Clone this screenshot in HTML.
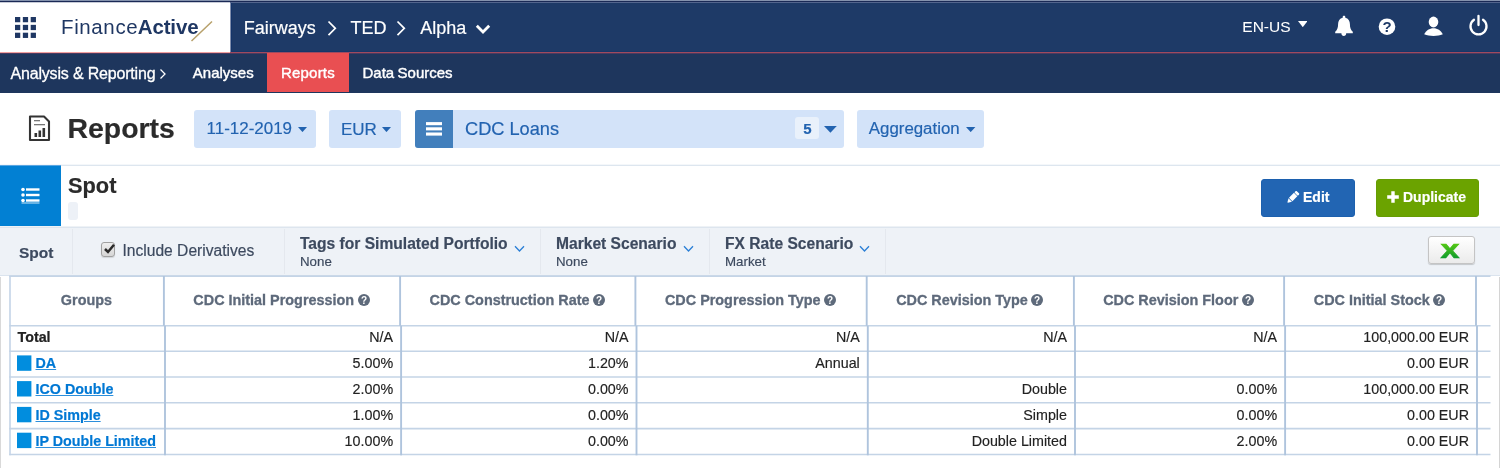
<!DOCTYPE html>
<html lang="en">
<head>
<meta charset="utf-8">
<title>Reports</title>
<style>
*{box-sizing:border-box;margin:0;padding:0}
html,body{width:1500px;height:468px;overflow:hidden;background:#fff}
body{font-family:"Liberation Sans",sans-serif;position:relative;color:#222}
.abs{position:absolute}
#top0{left:0;top:0;width:1500px;height:1px;background:#8492ad}
#top1{left:0;top:1px;width:1500px;height:1px;background:#1a2955}
#hdr{left:0;top:2px;width:1500px;height:50px;background:#1e3a67}
#hdrhl{left:230px;top:2px;width:1270px;height:1px;background:#53658d}
#logo{left:0;top:2px;width:230px;height:50px;background:#fff}
#redline{left:0;top:52px;width:1500px;height:1px;background:#a04a5e}
#redline2{left:0;top:52px;width:230px;height:1px;background:#f2a0a0}
#redline3{left:0;top:53px;width:1500px;height:1px;background:#4b3a5f}
#hdrsh{left:230px;top:51px;width:1270px;height:1px;background:#16366a}
#hdrsv{left:230px;top:3px;width:1px;height:49px;background:#7f8dab}
#hdrsv2{left:231px;top:3px;width:1px;height:49px;background:#14346a}
#logotop{left:0;top:2px;width:230px;height:1px;background:#c8ccd8}
#nav{left:0;top:53px;width:1500px;height:40px;background:#1e365d}
.t{position:absolute;white-space:nowrap;line-height:1;-webkit-text-stroke:0.180px currentColor}
.w{color:#fff}
#tab{left:267px;top:53px;width:82px;height:39px;background:#e94f52}
.lb{position:absolute;background:#d3e3f9;border-radius:3px;height:38px;top:110px}
.bl{color:#2263b0}
.caret{position:absolute;width:0;height:0;border-left:5px solid transparent;border-right:5px solid transparent;border-top:5.5px solid #2263b0}
#sepline{left:0;top:165px;width:1500px;height:1px;background:#dde6ef}
#sepline2{left:0;top:164px;width:1500px;height:1px;background:#f4f7fa}
#sepline3{left:0;top:165px;width:61px;height:1px;background:#5aa6e2}
#spotbox{left:0;top:166px;width:61px;height:60px;background:#0280d3}
#fbar{left:0;top:226px;width:1500px;height:50px;background:#eef2f7;border-top:1px solid #eef2f6;border-bottom:1px solid #dbe4ee}
#fbar2{left:0;top:227px;width:1500px;height:1px;background:#dde5ee}
.vs{position:absolute;top:229px;width:1px;height:45px;background:#e4e8ee}
.btn{position:absolute;top:179px;height:38px;border-radius:3px}
.hd{position:absolute;top:293px;padding-right:1px;-webkit-text-stroke:0.300px #5e6a7b;font-size:14.400px;font-weight:bold;color:#5e6a7b;white-space:nowrap;line-height:1;text-align:center}
.hl{position:absolute;background:#bacde4}
.r{position:absolute;-webkit-text-stroke:0.150px currentColor;font-size:14.3px;line-height:1;white-space:nowrap;text-align:right;color:#222}
.g{position:absolute;-webkit-text-stroke:0.200px currentColor;font-size:14.3px;line-height:1;white-space:nowrap;font-weight:bold}
.g a{color:#0078d4;text-decoration:underline;text-decoration-color:#2b8fdc}
.sq{position:absolute;left:17px;width:14px;height:14px;background:#0b80de}
.qi{display:inline-block;vertical-align:-1px;margin-left:3.500px}
</style>
</head>
<body>
<div class="abs" id="top0"></div>
<div class="abs" id="top1"></div>
<div class="abs" id="hdr"></div>
<div class="abs" id="hdrhl"></div>
<div class="abs" id="logo"></div>
<div class="abs" id="redline"></div><div class="abs" id="redline2"></div><div class="abs" id="hdrsh"></div><div class="abs" id="hdrsv"></div><div class="abs" id="hdrsv2"></div><div class="abs" id="logotop"></div>
<div class="abs" id="nav"></div><div class="abs" id="redline3"></div>
<div class="abs" id="tab"></div>

<!-- grid icon -->
<svg class="abs" style="left:14.700px;top:16.700px" width="22" height="22" viewBox="0 0 22 22"><g fill="#1f3763"><rect x="0" y="0" width="5.250" height="5.250"/><rect x="7.85" y="0" width="5.250" height="5.250"/><rect x="15.7" y="0" width="5.250" height="5.250"/><rect x="0" y="7.85" width="5.250" height="5.250"/><rect x="7.85" y="7.85" width="5.250" height="5.250"/><rect x="15.7" y="7.85" width="5.250" height="5.250"/><rect x="0" y="15.7" width="5.250" height="5.250"/><rect x="7.85" y="15.7" width="5.250" height="5.250"/><rect x="15.7" y="15.7" width="5.250" height="5.250"/></g></svg>

<!-- logo -->
<div class="t" id="lg" style="left:61px;top:17px;font-size:20.5px;color:#1f3763;letter-spacing:0.62px;-webkit-text-stroke:0">Finance<b style="font-weight:bold;letter-spacing:-0.15px;margin-left:-0.500px">Active</b></div>
<svg class="abs" style="left:188px;top:17px" width="28" height="28" viewBox="0 0 28 28"><line x1="3.5" y1="24" x2="24" y2="4.5" stroke="#b7a06a" stroke-width="1.500"/></svg>

<!-- breadcrumb -->
<div class="t w" style="left:243.800px;top:18.500px;font-size:18px">Fairways</div>
<svg class="abs" style="left:326.500px;top:20px" width="12" height="18" viewBox="0 0 12 18"><path d="M1.500 1.500 L8.300 8.300 L1.500 15.100" fill="none" stroke="#fff" stroke-width="1.700"/></svg>
<div class="t w" style="left:350.500px;top:18.500px;font-size:18px">TED</div>
<svg class="abs" style="left:396px;top:20px" width="12" height="18" viewBox="0 0 12 18"><path d="M1.500 1.500 L8.300 8.300 L1.500 15.100" fill="none" stroke="#fff" stroke-width="1.700"/></svg>
<div class="t w" style="left:420.300px;top:18.500px;font-size:18px">Alpha</div>
<svg class="abs" style="left:474.800px;top:23px" width="16" height="13" viewBox="0 0 16 13"><path d="M1.800 2.700 L8 8.900 L14.200 2.700" fill="none" stroke="#fff" stroke-width="2.800"/></svg>

<!-- right icons -->
<div class="t w" style="left:1242.300px;top:18.600px;font-size:15.5px;-webkit-text-stroke:0.050px #fff">EN-US</div>
<svg class="abs" style="left:1297.6px;top:20.9px" width="9.6" height="6.2" viewBox="0 0 9.6 6.2"><path d="M0 0 H9.6 L4.8 6.2 Z" fill="#fff"/></svg>
<svg class="abs" style="left:1334px;top:15px" width="20" height="22" viewBox="0 0 20 22"><path d="M10 0.800 C10.800 0.800 11.300 1.300 11.300 2.100 V2.700 C14.300 3.400 15.900 6 15.900 9 C15.900 13 17 15.200 18.800 16.700 V18.200 H12.200 C12.200 19.900 11.200 20.900 9.800 20.900 C8.400 20.900 7.400 19.900 7.400 18.200 H1.200 V16.700 C3 15.200 4.100 13 4.100 9 C4.100 6 5.700 3.400 8.700 2.700 V2.100 C8.700 1.300 9.200 0.800 10 0.800 Z" fill="#fff"/></svg>
<svg class="abs" style="left:1377.500px;top:18px" width="18" height="18" viewBox="0 0 18 18"><circle cx="9" cy="8.700" r="8.300" fill="#fff"/><text x="9" y="14" text-anchor="middle" font-family="Liberation Sans, sans-serif" font-weight="bold" font-size="15" fill="#1e3a67">?</text></svg>
<svg class="abs" style="left:1423px;top:16px" width="21" height="21" viewBox="0 0 21 21"><ellipse cx="10.500" cy="6" rx="4.800" ry="5.400" fill="#fff"/><path d="M1.200 18.300 C3 14.500 6.500 12.300 10.500 12.300 C14.500 12.300 18 14.500 19.800 18.300 C17 19.600 14 20 10.500 20 C7 20 4 19.600 1.200 18.300 Z" fill="#fff"/></svg>
<svg class="abs" style="left:1468px;top:14.400px" width="21" height="22" viewBox="0 0 21 22"><path d="M6 5.800 A8 8 0 1 0 15 5.800" fill="none" stroke="#fff" stroke-width="2.300" stroke-linecap="round"/><line x1="10.500" y1="2" x2="10.500" y2="11" stroke="#fff" stroke-width="2.300" stroke-linecap="round"/></svg>

<!-- nav -->
<div class="t w" style="left:10.500px;top:66px;font-size:16px;letter-spacing:-0.18px;-webkit-text-stroke:0.3px #fff">Analysis &amp; Reporting</div>
<svg class="abs" style="left:158.500px;top:68px" width="8" height="12" viewBox="0 0 8 12"><path d="M1.500 1.500 L6 6 L1.500 10.500" fill="none" stroke="#fff" stroke-width="1.3"/></svg>
<div class="t w" style="left:192.800px;top:65px;font-size:15px;-webkit-text-stroke:0.400px #fff">Analyses</div>
<div class="t w" style="left:281px;top:65px;font-size:15px;letter-spacing:0.200px;-webkit-text-stroke:0.400px #fff">Reports</div>
<div class="t w" style="left:362.500px;top:65px;font-size:15px;word-spacing:-0.800px;-webkit-text-stroke:0.400px #fff">Data Sources</div>

<!-- title row -->
<svg class="abs" style="left:28px;top:115px" width="23" height="27" viewBox="0 0 23 27">
<path d="M2 1.500 H16 L21 6.500 V25 H2 Z" fill="#fff" stroke="#333" stroke-width="2.100" stroke-linejoin="round"/>
<rect x="6" y="5" width="6" height="1.300" fill="#777"/><rect x="6" y="9" width="11" height="1.300" fill="#777"/>
<rect x="6.500" y="18" width="2.600" height="4" fill="#333"/><rect x="10.500" y="15.500" width="2.600" height="6.500" fill="#333"/><rect x="14.500" y="13" width="2.600" height="9" fill="#333"/>
</svg>
<div class="t" style="left:67.500px;top:113.500px;font-size:28.400px;font-weight:bold;color:#2b2b2b">Reports</div>

<div class="lb" style="left:194px;width:122px"></div>
<div class="t bl" style="left:206.600px;top:121px;font-size:16.950px">11-12-2019</div>
<svg class="abs" style="left:297.8px;top:126.7px" width="9" height="5.1" viewBox="0 0 9 5.1"><path d="M0 0 H9 L4.5 5.1 Z" fill="#2263b0"/></svg>

<div class="lb" style="left:329px;width:72px"></div>
<div class="t bl" style="left:341px;top:121px;font-size:17px">EUR</div>
<svg class="abs" style="left:382.2px;top:126.7px" width="9" height="5.1" viewBox="0 0 9 5.1"><path d="M0 0 H9 L4.5 5.1 Z" fill="#2263b0"/></svg>

<div class="lb" style="left:415px;width:429px"></div>
<div class="abs" style="left:415px;top:110px;width:38px;height:38px;background:#427fbc;border-radius:3px 0 0 3px"></div>
<svg class="abs" style="left:426px;top:121.500px" width="16" height="14" viewBox="0 0 16 14"><rect x="0" y="0.100" width="16" height="3.100" fill="#fff"/><rect x="0" y="5.300" width="16" height="3.100" fill="#fff"/><rect x="0" y="10.500" width="16" height="3.100" fill="#fff"/></svg>
<div class="t bl" style="left:465px;top:120px;font-size:18.200px">CDC Loans</div>
<div class="abs" style="left:795px;top:117px;width:24px;height:22px;background:#e9f1fb;border-radius:3px"></div>
<div class="t" style="left:803.200px;top:121px;font-size:15px;font-weight:bold;color:#2263b0">5</div>
<svg class="abs" style="left:824.4px;top:126.4px" width="12.8" height="6.7" viewBox="0 0 12.8 6.7"><path d="M0 0 H12.8 L6.4 6.7 Z" fill="#2263b0"/></svg>

<div class="lb" style="left:857px;width:127px"></div>
<div class="t bl" style="left:868.800px;top:121px;font-size:16.850px">Aggregation</div>
<svg class="abs" style="left:966.2px;top:126.8px" width="9.4" height="5.1" viewBox="0 0 9.4 5.1"><path d="M0 0 H9.4 L4.7 5.1 Z" fill="#2263b0"/></svg>

<div class="abs" id="sepline2"></div><div class="abs" id="sepline"></div><div class="abs" id="sepline3"></div>
<div class="abs" id="spotbox"></div>
<svg class="abs" style="left:21px;top:187px" width="19" height="17" viewBox="0 0 19 17"><g fill="#fff"><circle cx="2" cy="2.500" r="1.800"/><circle cx="2" cy="8" r="1.800"/><circle cx="2" cy="13.500" r="1.800"/><rect x="5" y="1.300" width="13.500" height="2.400"/><rect x="5" y="6.800" width="13.500" height="2.400"/><rect x="5" y="12.300" width="13.500" height="2.400"/><rect x="0.500" y="15.600" width="18" height="0.800"/></g></svg>
<div class="t" style="left:68px;top:175px;font-size:21.8px;font-weight:bold;color:#2b2b2b">Spot</div>
<div class="abs" style="left:68px;top:202px;width:10px;height:18px;background:#edf1f7;border-radius:3px"></div>

<div class="btn" style="left:1261px;width:94px;background:#2265b3;border:1px solid #1c60ae"></div>
<svg class="abs" style="left:1285.500px;top:191px" width="14" height="13" viewBox="0 0 14 13"><g transform="translate(6.800,6.400) rotate(45)" fill="#fff"><rect x="-2.400" y="-7.200" width="4.800" height="2.600" rx="0.900"/><rect x="-2.400" y="-4" width="4.800" height="7"/><path d="M-2.400 3.600 L2.400 3.600 L0.300 7.300 L-0.300 7.300 Z"/></g></svg>
<div class="t w" style="left:1303px;top:190px;font-size:14px;font-weight:bold">Edit</div>
<div class="btn" style="left:1376px;width:103px;background:#6ba300;border:1px solid #669d03"></div>
<svg class="abs" style="left:1387px;top:191px" width="12" height="12" viewBox="0 0 12 12"><path d="M4.300 0.200 H7.700 V4.300 H11.800 V7.700 H7.700 V11.800 H4.300 V7.700 H0.200 V4.300 H4.300 Z" fill="#fff"/></svg>
<div class="t w" style="left:1403px;top:190px;font-size:14px;font-weight:bold">Duplicate</div>

<!-- filter bar -->
<div class="abs" id="fbar"></div><div class="abs" id="fbar2"></div>
<div class="vs" style="left:72px"></div>
<div class="vs" style="left:284px"></div>
<div class="vs" style="left:540px"></div>
<div class="vs" style="left:709px"></div>
<div class="vs" style="left:885px"></div>
<div class="t" style="left:19px;top:245px;font-size:15.5px;font-weight:bold;color:#3d4a5f">Spot</div>
<div class="abs" style="left:101.200px;top:242px;width:14px;height:14.500px;border:1px solid #a0a0a0;border-radius:3px;background:linear-gradient(#eeeeee,#d6d6d6);box-shadow:0 1px 1px rgba(0,0,0,.12)"></div>
<svg class="abs" style="left:103.500px;top:244px" width="11" height="10" viewBox="0 0 11 10"><path d="M1 5 L4 8 L10 0.800" fill="none" stroke="#2a2a2a" stroke-width="2.500"/></svg>
<div class="t" style="left:122.5px;top:243px;font-size:15.6px;color:#3d4a5f">Include Derivatives</div>

<div class="t" style="left:300px;top:236px;font-size:15.6px;font-weight:bold;color:#3d4a5f">Tags for Simulated Portfolio</div>
<div class="t" style="left:300px;top:255px;font-size:13.3px;color:#3d4a5f">None</div>
<div class="t" style="left:556px;top:236px;font-size:15.6px;font-weight:bold;color:#3d4a5f">Market Scenario</div>
<div class="t" style="left:556px;top:255px;font-size:13.3px;color:#3d4a5f">None</div>
<div class="t" style="left:725px;top:236px;font-size:15.6px;font-weight:bold;color:#3d4a5f">FX Rate Scenario</div>
<div class="t" style="left:725px;top:255px;font-size:13.3px;color:#3d4a5f">Market</div>

<svg class="abs" style="left:513.5px;top:245px" width="11" height="8" viewBox="0 0 11 8"><path d="M1 1.200 L5.500 6 L10 1.200" fill="none" stroke="#2b7fd6" stroke-width="1.300"/></svg>
<svg class="abs" style="left:683px;top:245px" width="11" height="8" viewBox="0 0 11 8"><path d="M1 1.200 L5.500 6 L10 1.200" fill="none" stroke="#2b7fd6" stroke-width="1.300"/></svg>
<svg class="abs" style="left:858.5px;top:245px" width="11" height="8" viewBox="0 0 11 8"><path d="M1 1.200 L5.500 6 L10 1.200" fill="none" stroke="#2b7fd6" stroke-width="1.300"/></svg>
<div class="abs" style="left:1428px;top:236px;width:47px;height:28px;border:1px solid #c4c4c4;border-radius:3px;background:linear-gradient(#ffffff,#ebebeb);box-shadow:0 1px 1px rgba(0,0,0,.18)"></div>
<svg class="abs" style="left:1436px;top:238px" width="28" height="24" viewBox="0 0 28 24"><defs><linearGradient id="xg" x1="0" y1="0" x2="0" y2="1"><stop offset="0.200" stop-color="#6bd60c"/><stop offset="0.850" stop-color="#0c9a2c"/></linearGradient></defs><text x="0" y="0" transform="translate(13.900,19.700) scale(1.290,1)" text-anchor="middle" font-family="Liberation Sans, sans-serif" font-weight="bold" font-size="26.500" fill="url(#xg)" stroke="url(#xg)" stroke-width="0.600">x</text></svg>
<!-- table -->
<div class="abs" style="left:0;top:277px;width:1px;height:191px;background:#d9d9d9"></div>
<div class="abs" style="left:1499px;top:277px;width:1px;height:191px;background:#d4d4d4"></div>
<svg class="abs" style="left:0;top:270px" width="1500" height="198" viewBox="0 270 1500 198">
<g stroke="#c4d4e6" stroke-width="1.6">
<line x1="9.2" y1="276.1" x2="1490.5" y2="276.1"/>
<line x1="9.2" y1="325.8" x2="1490.5" y2="325.8"/>
<line x1="9.2" y1="351.3" x2="1490.5" y2="351.3"/>
<line x1="9.2" y1="377.0" x2="1490.5" y2="377.0"/>
<line x1="9.2" y1="402.8" x2="1490.5" y2="402.8"/>
<line x1="9.2" y1="428.6" x2="1490.5" y2="428.6"/>
<line x1="9.2" y1="454.5" x2="1490.5" y2="454.5"/>
</g>
<g stroke="#afc4dd" stroke-width="1.9">
<line x1="10" y1="276" x2="10" y2="325.8" stroke="#c3d4e7" stroke-width="1.6"/>
<line x1="163.9" y1="276" x2="163.9" y2="325.8"/>
<line x1="400.1" y1="276" x2="400.1" y2="325.8"/>
<line x1="635.4" y1="276" x2="635.4" y2="325.8"/>
<line x1="866.7" y1="276" x2="866.7" y2="325.8"/>
<line x1="1073.9" y1="276" x2="1073.9" y2="325.8"/>
<line x1="1284.1" y1="276" x2="1284.1" y2="325.8"/>
<line x1="1476" y1="276" x2="1476" y2="325.8"/>
<line x1="10" y1="325.8" x2="10" y2="455.3" stroke="#c3d4e7" stroke-width="1.6"/>
<line x1="165" y1="325.8" x2="165" y2="455.3"/>
<line x1="401.1" y1="325.8" x2="401.1" y2="455.3"/>
<line x1="636.5" y1="325.8" x2="636.5" y2="455.3"/>
<line x1="867.8" y1="325.8" x2="867.8" y2="455.3"/>
<line x1="1075" y1="325.8" x2="1075" y2="455.3"/>
<line x1="1285.1" y1="325.8" x2="1285.1" y2="455.3"/>
<line x1="1477" y1="325.8" x2="1477" y2="455.3"/>
</g>
<g fill="#018dde">
<rect x="17" y="355.4" width="14.4" height="15.4"/>
<rect x="17" y="381.1" width="14.4" height="15.4"/>
<rect x="17" y="406.9" width="14.4" height="15.4"/>
<rect x="17" y="432.7" width="14.4" height="15.4"/>
</g>
</svg>
<div class="hd" style="left:10px;width:153.9px">Groups</div>
<div class="hd" style="left:163.9px;width:236.20000000000002px">CDC Initial Progression<svg class="qi" width="12" height="12" viewBox="0 0 12 12"><circle cx="6" cy="6" r="6" fill="#5e6a7b"/><text x="6" y="9.600" text-anchor="middle" font-family="Liberation Sans, sans-serif" font-weight="bold" font-size="10" fill="#fff">?</text></svg></div>
<div class="hd" style="left:400.1px;width:235.29999999999995px">CDC Construction Rate<svg class="qi" width="12" height="12" viewBox="0 0 12 12"><circle cx="6" cy="6" r="6" fill="#5e6a7b"/><text x="6" y="9.600" text-anchor="middle" font-family="Liberation Sans, sans-serif" font-weight="bold" font-size="10" fill="#fff">?</text></svg></div>
<div class="hd" style="left:635.4px;width:231.30000000000007px">CDC Progression Type<svg class="qi" width="12" height="12" viewBox="0 0 12 12"><circle cx="6" cy="6" r="6" fill="#5e6a7b"/><text x="6" y="9.600" text-anchor="middle" font-family="Liberation Sans, sans-serif" font-weight="bold" font-size="10" fill="#fff">?</text></svg></div>
<div class="hd" style="left:866.7px;width:207.20000000000005px">CDC Revision Type<svg class="qi" width="12" height="12" viewBox="0 0 12 12"><circle cx="6" cy="6" r="6" fill="#5e6a7b"/><text x="6" y="9.600" text-anchor="middle" font-family="Liberation Sans, sans-serif" font-weight="bold" font-size="10" fill="#fff">?</text></svg></div>
<div class="hd" style="left:1073.9px;width:210.19999999999982px">CDC Revision Floor<svg class="qi" width="12" height="12" viewBox="0 0 12 12"><circle cx="6" cy="6" r="6" fill="#5e6a7b"/><text x="6" y="9.600" text-anchor="middle" font-family="Liberation Sans, sans-serif" font-weight="bold" font-size="10" fill="#fff">?</text></svg></div>
<div class="hd" style="left:1284.1px;width:191.9000000000001px">CDC Initial Stock<svg class="qi" width="12" height="12" viewBox="0 0 12 12"><circle cx="6" cy="6" r="6" fill="#5e6a7b"/><text x="6" y="9.600" text-anchor="middle" font-family="Liberation Sans, sans-serif" font-weight="bold" font-size="10" fill="#fff">?</text></svg></div>
<div class="g" style="left:17.500px;top:330px;color:#222">Total</div>
<div class="r" style="right:1106.9px;top:330px">N/A</div>
<div class="r" style="right:871.5px;top:330px">N/A</div>
<div class="r" style="right:640.2px;top:330px">N/A</div>
<div class="r" style="right:433.0px;top:330px">N/A</div>
<div class="r" style="right:222.9px;top:330px">N/A</div>
<div class="r" style="right:31.0px;top:330px">100,000.00 EUR</div>
<div class="g" style="left:35.500px;top:356px"><a>DA</a></div>
<div class="r" style="right:1106.9px;top:356px">5.00%</div>
<div class="r" style="right:871.5px;top:356px">1.20%</div>
<div class="r" style="right:640.2px;top:356px">Annual</div>
<div class="r" style="right:31.0px;top:356px">0.00 EUR</div>
<div class="g" style="left:35.500px;top:382px"><a>ICO Double</a></div>
<div class="r" style="right:1106.9px;top:382px">2.00%</div>
<div class="r" style="right:871.5px;top:382px">0.00%</div>
<div class="r" style="right:433.0px;top:382px">Double</div>
<div class="r" style="right:222.9px;top:382px">0.00%</div>
<div class="r" style="right:31.0px;top:382px">100,000.00 EUR</div>
<div class="g" style="left:35.500px;top:408px"><a>ID Simple</a></div>
<div class="r" style="right:1106.9px;top:408px">1.00%</div>
<div class="r" style="right:871.5px;top:408px">0.00%</div>
<div class="r" style="right:433.0px;top:408px">Simple</div>
<div class="r" style="right:222.9px;top:408px">0.00%</div>
<div class="r" style="right:31.0px;top:408px">0.00 EUR</div>
<div class="g" style="left:35.500px;top:434px"><a>IP Double Limited</a></div>
<div class="r" style="right:1106.9px;top:434px">10.00%</div>
<div class="r" style="right:871.5px;top:434px">0.00%</div>
<div class="r" style="right:433.0px;top:434px">Double Limited</div>
<div class="r" style="right:222.9px;top:434px">2.00%</div>
<div class="r" style="right:31.0px;top:434px">0.00 EUR</div>
<!-- /table -->
</body>
</html>
